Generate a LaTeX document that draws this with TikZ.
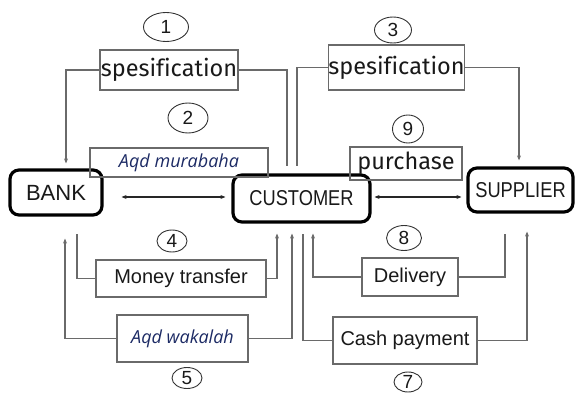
\documentclass[tikz,border=0pt]{standalone}
\usepackage{fontspec}
\setmainfont{Liberation Sans}
\newfontfamily\specfont[Ligatures=NoCommon]{Fira Sans}
\newfontfamily\aqdfont{Open Sans}
\newfontfamily\narrowfont[FakeStretch=0.85]{Liberation Sans}
\usepackage{tikz}
\usetikzlibrary{positioning,arrows.meta,shapes.geometric}
\definecolor{aqdblue}{HTML}{1C2A64}
\definecolor{linegray}{HTML}{6A6A6A}

\begin{document}
\begin{tikzpicture}[
  x=1pt, y=-1pt,
  >={Stealth[length=5pt,width=4pt]},
  party/.style={draw=black, line width=3.2pt, rounded corners=9pt, inner sep=0pt,
                text=black!90, font=\narrowfont\fontsize{21.5}{24}\selectfont},
  msg/.style={draw=linegray, line width=1.1pt, inner sep=0pt, text=black!90,
              font=\fontsize{20}{24}\selectfont},
  spec/.style={msg, font=\specfont\fontsize{23.5}{26}\selectfont},
  aqd/.style={msg, text=aqdblue, font=\aqdfont\itshape\fontsize{18}{20}\selectfont},
  stepno/.style={draw=black!80, ellipse, line width=0.9pt, inner sep=0pt,
                 text=black!90, font=\fontsize{19}{20}\selectfont},
  flow/.style={draw=linegray, line width=1.5pt},
  duplex/.style={<->, draw=black!85, line width=1.3pt}
]
  \useasboundingbox (0,0) rectangle (575,398);

  % the three parties
  \node[party, minimum width=92pt, minimum height=45pt, font=\fontsize{22}{24}\selectfont]
    (bank) at (56,192.5) {BANK};
  \node[party, minimum width=137pt, minimum height=47pt] (cust) at (301.5,198.5) {CUSTOMER};
  \node[party, minimum width=105pt, minimum height=44pt] (supp) at (520.5,190) {SUPPLIER};

  % upper messages
  \node[spec, minimum width=138pt, minimum height=40pt] (spec1) at (169,70) {spesification};
  \node[aqd, minimum width=178pt, minimum height=29pt] (murabaha) at (179,162.5) {Aqd murabaha};
  \node[spec, minimum width=133pt, minimum height=45pt] (spec3) at (396.5,67.5) {spesification};
  \node[spec, minimum width=112pt, minimum height=33pt] (purchase) at (406,163.5) {purchase};

  % lower messages
  \node[msg, minimum width=170pt, minimum height=37pt] (money) at (181,278.5) {Money transfer};
  \node[aqd, minimum width=131pt, minimum height=47pt] (wakalah) at (182.5,338.5) {Aqd wakalah};
  \node[msg, minimum width=96pt, minimum height=38pt] (deliv) at (410,277) {Delivery};
  \node[msg, minimum width=144pt, minimum height=47pt] (cash) at (405,340.5) {Cash payment};

  % step numbers
  \node[stepno, minimum width=45pt, minimum height=29pt] (n1) at (166,27) {1};
  \node[stepno, minimum width=40pt, minimum height=30pt] (n2) at (188,118) {2};
  \node[stepno, minimum width=37pt, minimum height=26pt] (n3) at (393,30) {3};
  \node[stepno, minimum width=31pt, minimum height=28pt] (n9) at (408,129) {9};
  \node[stepno, minimum width=30pt, minimum height=22pt] (n4) at (172,241) {4};
  \node[stepno, minimum width=30pt, minimum height=21pt] (n5) at (187,378) {5};
  \node[stepno, minimum width=35pt, minimum height=25pt] (n8) at (404,238) {8};
  \node[stepno, minimum width=28pt, minimum height=20pt] (n7) at (408,382) {7};

  % direct links between the parties
  \draw[duplex, shorten <=18pt, shorten >=6pt]
    ([yshift=-4.5pt]bank.east) -- ([yshift=-4.5pt]bank.east -| cust.west);
  \draw[duplex, shorten <=3pt, shorten >=5pt]
    ([yshift=1.5pt]cust.east) -- ([yshift=1.5pt]cust.east -| supp.west);

  % routes above
  \draw[flow, ->, shorten >=5pt] (spec1.west) -| ([xshift=10pt]bank.north);
  \draw[flow, shorten >=7pt] (spec1.east) -| ([xshift=-14.5pt]cust.north);
  \draw[flow, shorten >=7pt] (spec3.west) -| ([xshift=-4.5pt]cust.north);
  \draw[flow, ->, shorten >=6pt] (spec3.east) -| ([xshift=-1.5pt]supp.north);

  % routes below
  \draw[flow, shorten >=17pt] (money.west) -| ([xshift=21pt]bank.south);
  \draw[flow, ->, shorten >=10pt] (money.east) -| ([xshift=-24.5pt]cust.south);
  \draw[flow, ->, shorten >=22pt] (wakalah.west) -| ([xshift=9pt]bank.south);
  \draw[flow, ->, shorten >=10pt] (wakalah.east) -| ([xshift=-9.5pt]cust.south);
  \draw[flow, ->, shorten >=10pt] (deliv.west) -| ([xshift=11.5pt]cust.south);
  \draw[flow, shorten >=20pt] (deliv.east) -| ([xshift=-15.5pt]supp.south);
  \draw[flow, shorten >=10pt] (cash.west) -| ([xshift=1.5pt]cust.south);
  \draw[flow, ->, shorten >=18pt] (cash.east) -| ([xshift=6.5pt]supp.south);
\end{tikzpicture}
\end{document}
